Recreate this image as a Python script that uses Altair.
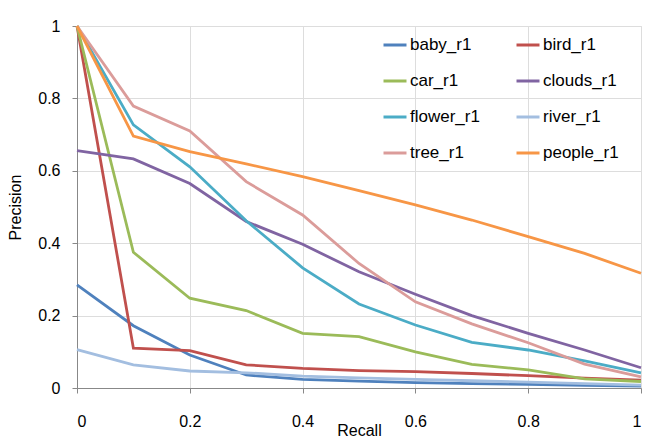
import altair as alt
import pandas as pd

recall = [0.0, 0.1, 0.2, 0.3, 0.4, 0.5, 0.6, 0.7, 0.8, 0.9, 1.0]

baby_r1 = [0.285, 0.172, 0.091, 0.036, 0.024, 0.019, 0.015, 0.012, 0.010, 0.007, 0.005]
bird_r1 = [1.0, 0.110, 0.103, 0.064, 0.054, 0.048, 0.045, 0.040, 0.034, 0.027, 0.022]
car_r1 = [1.0, 0.375, 0.248, 0.214, 0.151, 0.142, 0.100, 0.065, 0.050, 0.025, 0.018]
clouds_r1 = [0.656, 0.633, 0.565, 0.460, 0.397, 0.321, 0.259, 0.200, 0.151, 0.105, 0.056]
flower_r1 = [1.0, 0.727, 0.611, 0.462, 0.332, 0.232, 0.174, 0.126, 0.105, 0.075, 0.042]
river_r1 = [0.106, 0.064, 0.047, 0.042, 0.033, 0.028, 0.024, 0.020, 0.016, 0.012, 0.008]
tree_r1 = [1.0, 0.779, 0.710, 0.570, 0.478, 0.344, 0.238, 0.177, 0.125, 0.066, 0.031]
people_r1 = [1.0, 0.696, 0.653, 0.619, 0.584, 0.545, 0.506, 0.464, 0.418, 0.372, 0.317]

series_names = ["baby_r1", "bird_r1", "car_r1", "clouds_r1",
                "flower_r1", "river_r1", "tree_r1", "people_r1"]
series_values = [baby_r1, bird_r1, car_r1, clouds_r1,
                 flower_r1, river_r1, tree_r1, people_r1]
series_colors = ["#4F81BD", "#C0504D", "#9BBB59", "#8064A2",
                 "#4BACC6", "#A3BEE0", "#DB9C9A", "#F79646"]

x_ticks = [0, 0.2, 0.4, 0.6, 0.8, 1]
y_ticks = [0, 0.2, 0.4, 0.6, 0.8, 1]

rows = []
for i, (name, vals) in enumerate(zip(series_names, series_values)):
    for r, p in zip(recall, vals):
        rows.append({"series": name, "order": i, "Recall": r, "Precision": p})
df = pd.DataFrame(rows)

FONT = "Lato"

chart = alt.Chart(df).mark_line(strokeWidth=2.8).encode(
    x=alt.X("Recall:Q",
            scale=alt.Scale(domain=[0, 1], nice=False, zero=False),
            axis=alt.Axis(values=x_ticks, format="~g", title="Recall",
                          titleX=282, titleY=47, titleBaseline="alphabetic",
                          titleFontSize=16, titleFontWeight="normal",
                          labelPadding=20, labelFontSize=16)),
    y=alt.Y("Precision:Q",
            scale=alt.Scale(domain=[0, 1], nice=False),
            axis=alt.Axis(values=y_ticks, format="~g", title="Precision",
                          titleX=-62, titleY=181, titleAngle=-90,
                          titleAlign="center", titleBaseline="middle",
                          titleFontSize=16, titleFontWeight="normal",
                          labelPadding=12, labelFontSize=16)),
    color=alt.Color("series:N",
                    scale=alt.Scale(domain=series_names, range=series_colors),
                    sort=series_names,
                    legend=alt.Legend(title=None, orient="none", columns=2,
                                      direction="horizontal",
                                      legendX=305, legendY=6,
                                      symbolType="stroke", symbolSize=529,
                                      symbolStrokeWidth=3,
                                      labelFontSize=17, labelOffset=2,
                                      rowPadding=15, columnPadding=30,
                                      gridAlign="each", labelLimit=200)),
    order=alt.Order("order:Q"),
    detail="series:N",
).properties(
    width=564, height=362,
    autosize=alt.AutoSizeParams(type="none"),
    padding={"left": 77, "top": 26, "right": 6, "bottom": 51},
).configure_axis(
    grid=False,
    domainColor="#868686",
    tickColor="#868686",
    tickSize=7,
    labelColor="#000000",
    titleColor="#000000",
    labelFont=FONT,
    titleFont=FONT,
).configure_legend(
    labelFont=FONT,
    labelColor="#000000",
).configure_view(
    stroke=None,
).configure(background="white")

chart.save("out.html", embed_options={"renderer": "svg", "actions": False})
